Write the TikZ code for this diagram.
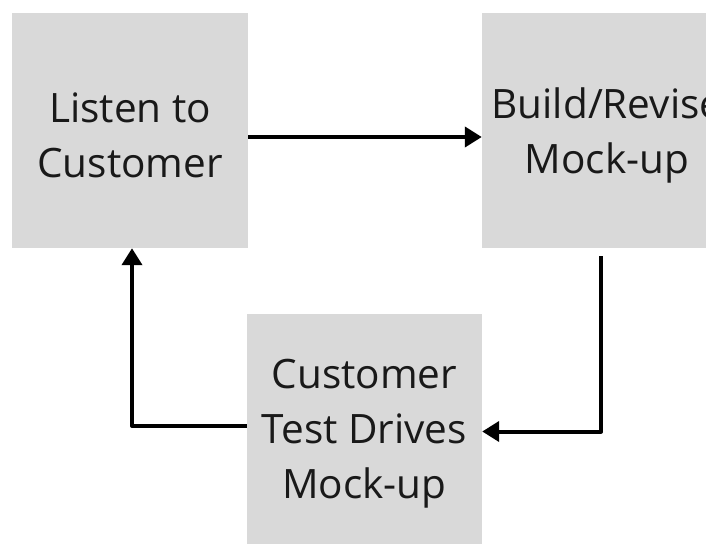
\documentclass[tikz,border=0pt]{standalone}
\usepackage{fontspec}
\setmainfont{Open Sans}
\usetikzlibrary{arrows.meta}
\tikzset{
  stage/.style={fill=boxgray, draw=none, inner sep=0pt},
  stagetext/.style={inner sep=0pt, align=center,
    font=\fontsize{40.5pt}{55pt}\selectfont, text=black!90},
  flow/.style={line width=4pt, draw=black, line join=round,
    -{Triangle[length=17pt,width=20pt]}}
}
\definecolor{boxgray}{HTML}{D9D9D9}
\begin{document}
\begin{tikzpicture}[x=1pt,y=-1pt]
\useasboundingbox[fill=white] (0,0) rectangle (706,543);
% the three stages of the cycle
\node[stage, minimum width=236pt, minimum height=235pt] (listen) at (130,130.5) {};
\node[stage, minimum width=250pt, minimum height=235pt] (build) at (607,130.5) {};
\node[stage, minimum width=235pt, minimum height=235pt] (test) at (364.5,431.5) {};
% their captions
\node[stagetext] (listen-text) at ([yshift=-5pt]listen.center) {Listen to\\Customer};
\node[stagetext] (build-text) at ([yshift=-5pt]build.center) {Build/Revise\\Mock-up};
\node[stagetext] (test-text) at ([yshift=-2pt]test.center) {Customer\\Test Drives\\Mock-up};
% connectors
\draw[flow] ([yshift=-6.5pt]listen.east) -- ([yshift=-6.5pt]build.west);
\draw[flow] ([xshift=-6pt,yshift=-8pt]build.south) |- (test.east);
\draw[flow] ([yshift=5.5pt]test.west) -| ([xshift=2pt]listen.south);
\end{tikzpicture}
\end{document}
